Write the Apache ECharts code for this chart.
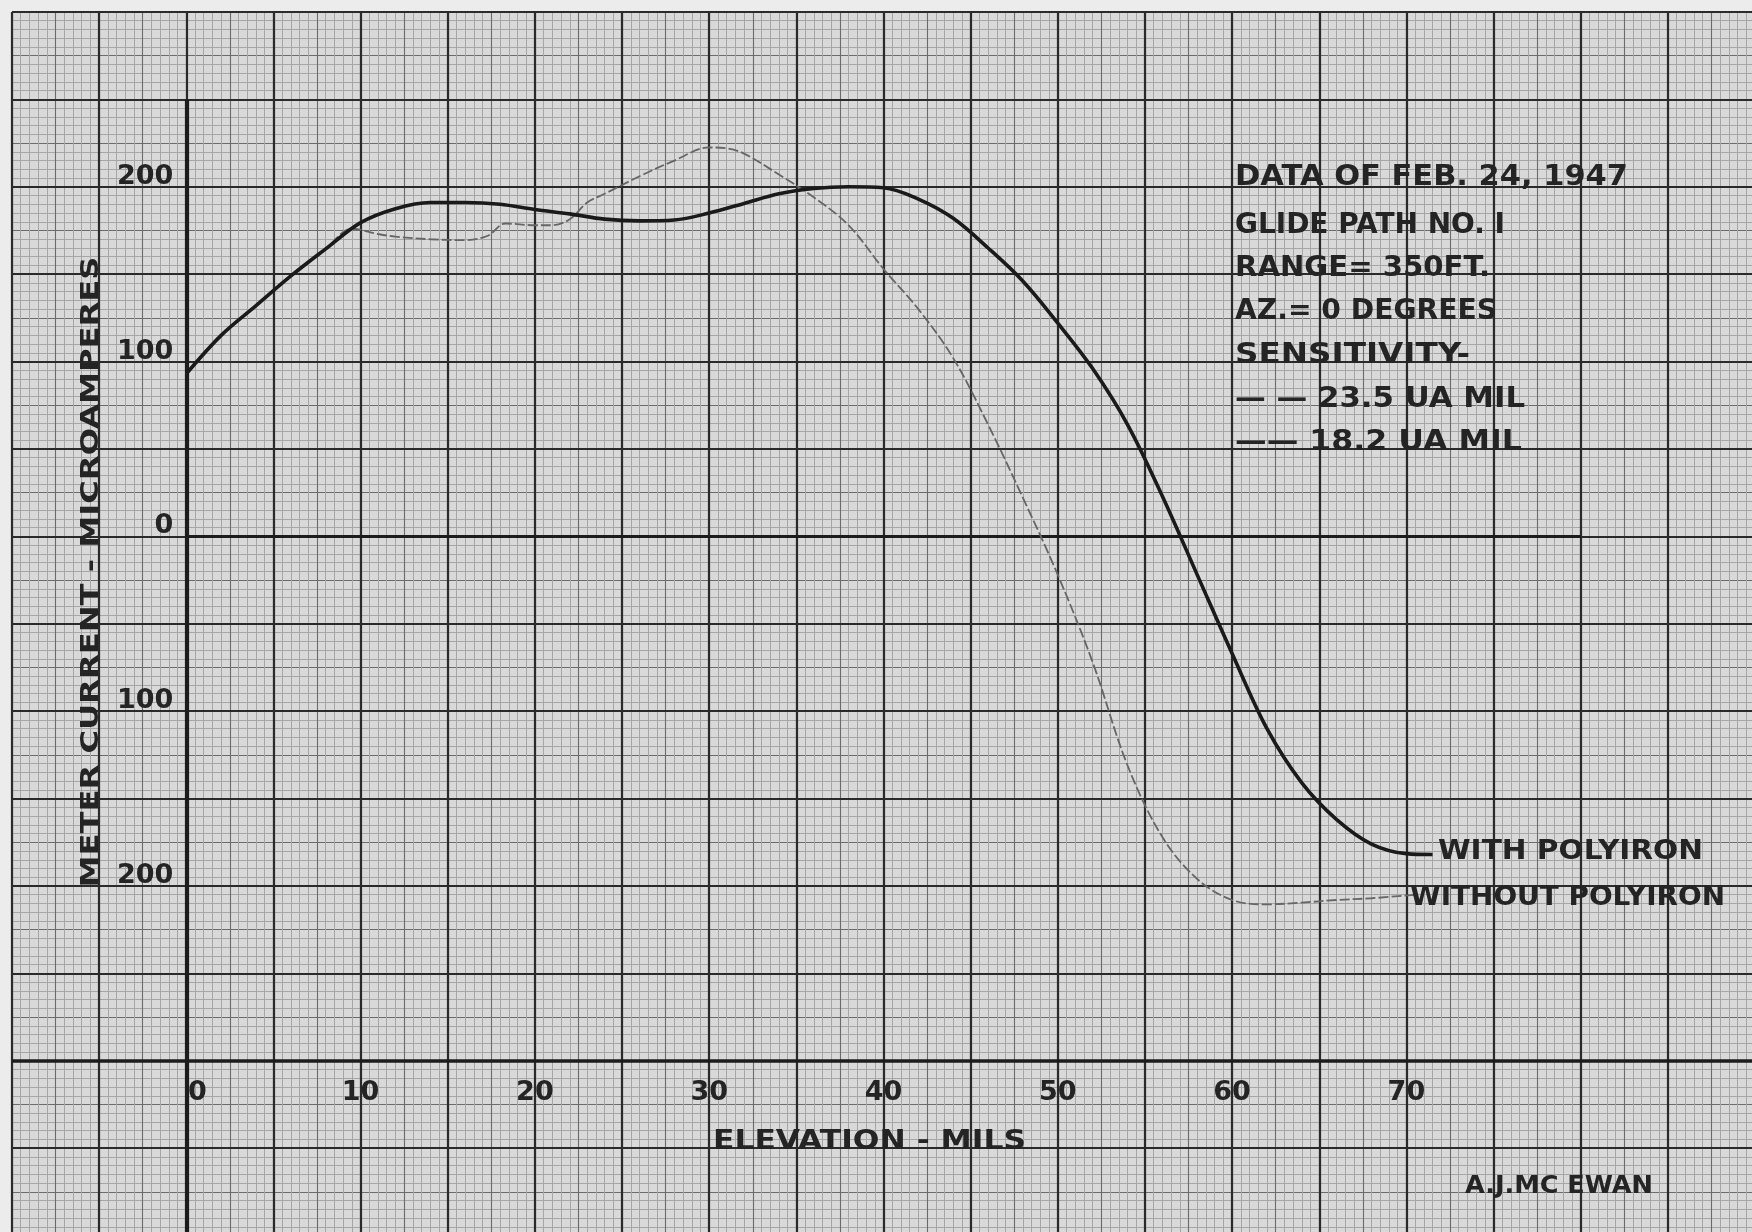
<!DOCTYPE html>
<html><head><meta charset="utf-8">
<script src="https://cdn.jsdelivr.net/npm/echarts@6/dist/echarts.min.js"></script>
<style>html,body{margin:0;padding:0;background:#ececec;}#c{width:1752px;height:1232px;}</style>
</head><body><div id="c"></div>
<script>
// ---- data ----
const withElev    = [0, 2, 4, 6, 8, 10, 12, 14, 16, 18, 20, 22, 24, 26, 28, 30, 32, 34, 36, 38, 40, 42, 44, 46, 48, 50, 52, 54, 56, 58, 60, 62, 64, 66, 68, 70, 71.5];
const withCurrent = [93, 115, 132, 149, 164.5, 179.5, 187.5, 191, 191, 190, 187, 184.5, 181.5, 180.5, 181, 185, 190.5, 196, 199, 200, 199.5, 193, 182, 165, 146, 122, 96, 64, 23, -22, -67, -110, -141, -162, -176, -181.5, -182];
const withoutElev    = [0, 2, 4, 6, 8, 9.5, 11, 12, 14, 16, 17.3, 18.3, 20, 21, 22, 23, 24, 26, 28, 30, 31, 32, 34, 36, 38, 40, 42, 44, 46, 48, 50, 52, 54, 56, 58, 60, 62, 64, 66, 68, 70.5];
const withoutCurrent = [93, 115, 132, 149, 164.5, 176, 173, 171.5, 170, 169.5, 172, 179, 178, 178, 181.5, 191, 196, 206, 215, 222.5, 222, 219, 207, 194, 178, 153, 130, 102, 64, 22, -22, -72, -131, -172, -196, -208, -210.5, -209.5, -208, -207, -205];
const xTickLabels = [0, 10, 20, 30, 40, 50, 60, 70];
const yTickLabels = [200, 100, 0, -100, -200];

const zip = (a, b) => a.map((v, i) => [v, b[i]]);
const FONT = '"DejaVu Sans", "Liberation Sans", sans-serif';
const INK = '#242424';

const mctx = document.createElement('canvas').getContext('2d');
function textW(t, size) { mctx.font = 'bold ' + size + 'px "DejaVu Sans"'; return mctx.measureText(t).width; }
function note(t, x, y, w, s, extra) {
  const sx = w / textW(t, s);
  return Object.assign({
    type: 'text', x: x, y: y, scaleX: sx, scaleY: 1, silent: true, z: 50,
    style: { text: t, fontSize: s, fontFamily: FONT, fontWeight: 'bold', fill: INK, align: 'left', verticalAlign: 'middle', textAlign: 'left', textVerticalAlign: 'middle' }
  }, extra || {});
}

const notes = [
  note('DATA OF FEB. 24, 1947', 1235, 178, 393, 28),
  note('GLIDE PATH NO. I', 1235, 225.5, 270, 28),
  note('RANGE= 350FT.', 1235, 268.5, 255, 28),
  note('AZ.= 0 DEGREES', 1235, 311.5, 262, 28),
  note('SENSITIVITY-', 1235, 355.5, 235, 28),
  note('— — 23.5 UA MIL', 1235, 399.5, 290, 28),
  note('—— 18.2 UA MIL', 1235, 443, 287, 28),
  note('WITH POLYIRON', 1438, 852, 265, 27),
  note('WITHOUT POLYIRON', 1410, 898, 315, 27),
  note('ELEVATION - MILS', 713, 1142, 313, 27),
  note('A.J.MC EWAN', 1465, 1186, 188, 25)
];
const yTitle = 'METER CURRENT - MICROAMPERES';
notes.push({
  type: 'text', x: 91, y: 572, rotation: Math.PI / 2, scaleX: 631 / textW(yTitle, 25), scaleY: 1, silent: true, z: 50,
  style: { text: yTitle, fontSize: 25, fontFamily: FONT, fontWeight: 'bold', fill: INK, align: 'center', verticalAlign: 'middle', textAlign: 'center', textVerticalAlign: 'middle' }
});

const hidden = { axisLine: { show: false }, axisTick: { show: false }, axisLabel: { show: false } };
const FINE = { color: '#a6a6a6', width: 1 };
const MED = { color: '#6c6c6c', width: 1.1 };
const HEAVY = { color: '#2a2a2a', width: 2.2 };
const labelStyle = { fontSize: 27, fontFamily: FONT, fontWeight: 'bold', color: INK };

const chart = echarts.init(document.getElementById('c'), null, { renderer: 'canvas' });
chart.setOption({
  animation: false,
  backgroundColor: '#ececec',
  grid: [
    { left: 12, top: 12, width: 1743, height: 1223.6, show: true, backgroundColor: '#d9d9d9', borderWidth: 0, containLabel: false, outerBoundsMode: 'none' },
    { left: 186.3, top: 99.4, width: 1394.4, height: 961.4, show: false, containLabel: false, outerBoundsMode: 'none' }
  ],
  xAxis: [
    Object.assign({ gridIndex: 0, type: 'value', min: -10, max: 90, interval: 2.5, position: 'bottom',
      splitLine: { show: true, lineStyle: MED }, minorTick: { show: false, splitNumber: 5 }, minorSplitLine: { show: true, lineStyle: FINE } }, hidden),
    Object.assign({ gridIndex: 0, type: 'value', min: -10, max: 90, interval: 5, position: 'top', z: 2,
      splitLine: { show: true, lineStyle: HEAVY } }, hidden),
    { gridIndex: 1, type: 'value', min: 0, max: 80, interval: 10, position: 'bottom',
      axisLine: { show: false }, axisTick: { show: false }, splitLine: { show: false },
      axisLabel: Object.assign({ show: true, margin: 22, lineHeight: 20, showMinLabel: true, showMaxLabel: true,
        formatter: v => xTickLabels.includes(v) ? (v === 0 ? '{z|0}' : String(v)) : '',
        rich: { z: Object.assign({ padding: [0, 0, 0, 22], lineHeight: 20 }, labelStyle) } }, labelStyle) }
  ],
  yAxis: [
    Object.assign({ gridIndex: 0, type: 'value', min: -400, max: 300, interval: 25, position: 'left',
      splitLine: { show: true, lineStyle: MED }, minorTick: { show: false, splitNumber: 5 }, minorSplitLine: { show: true, lineStyle: FINE } }, hidden),
    Object.assign({ gridIndex: 0, type: 'value', min: -400, max: 300, interval: 50, position: 'right', z: 2,
      splitLine: { show: true, lineStyle: HEAVY } }, hidden),
    { gridIndex: 1, type: 'value', min: -300, max: 250, interval: 50, position: 'left',
      axisLine: { show: false }, axisTick: { show: false }, splitLine: { show: false },
      axisLabel: Object.assign({ show: true, margin: 13, verticalAlign: 'bottom', lineHeight: 20, showMinLabel: true, showMaxLabel: true,
        formatter: v => yTickLabels.includes(v) ? String(Math.abs(v)) : '' }, labelStyle) }
  ],
  series: [
    { type: 'line', xAxisIndex: 1, yAxisIndex: 1, data: [], silent: true, z: 3,
      markLine: { silent: true, symbol: ['none', 'none'], animation: false, label: { show: false },
        lineStyle: { type: 'solid', color: '#1c1c1c' },
        data: [
          [{ coord: [0, 250], lineStyle: { width: 4.2, type: 'solid', color: '#1c1c1c' } }, { coord: [0, -400] }],
          [{ coord: [0, 0], lineStyle: { width: 3.2, type: 'solid', color: '#1c1c1c' } }, { coord: [80, 0] }],
          [{ coord: [-10, -300], lineStyle: { width: 3.6, type: 'solid', color: '#1c1c1c' } }, { coord: [90, -300] }]
        ] } },
    { name: 'WITHOUT POLYIRON', type: 'line', xAxisIndex: 2, yAxisIndex: 2, data: zip(withoutElev, withoutCurrent),
      smooth: 0.35, showSymbol: false, symbol: 'none', z: 5, clip: false,
      lineStyle: { color: '#666666', width: 1.8, type: [10, 3] } },
    { name: 'WITH POLYIRON', type: 'line', xAxisIndex: 2, yAxisIndex: 2, data: zip(withElev, withCurrent),
      smooth: 0.35, showSymbol: false, symbol: 'none', z: 6, clip: false,
      lineStyle: { color: '#1a1a1a', width: 3.6 } }
  ],
  graphic: notes
});
</script></body></html>
